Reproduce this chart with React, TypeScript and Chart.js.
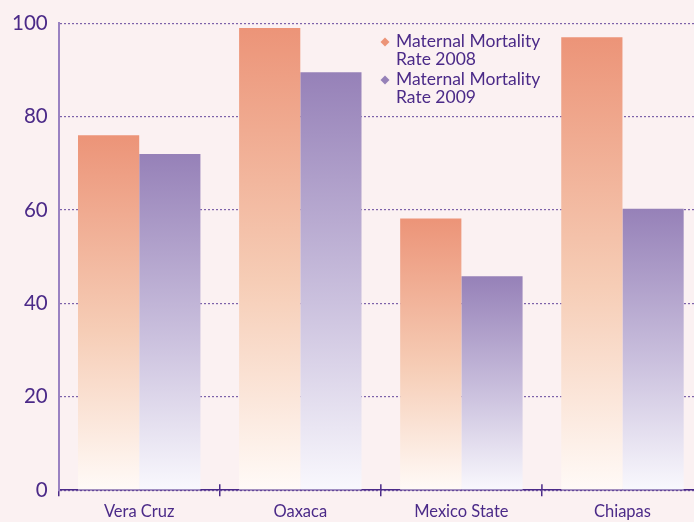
import React, { useEffect, useRef } from "react";
import { Chart, registerables } from "chart.js";

Chart.register(...registerables);

const categories = ["Vera Cruz", "Oaxaca", "Mexico State", "Chiapas"];
const rate2008 = [76, 99, 58.2, 97];
const rate2009 = [72, 89.5, 45.8, 60.3];
const seriesLabels = [["Maternal Mortality", "Rate 2008"], ["Maternal Mortality", "Rate 2009"]];
const yTicks = [0, 20, 40, 60, 80, 100];

const PURPLE = "#4b2a88";
const BG = "#fbf1f2";

function gradientFill(top: string, mid: string, bottom: string) {
  return (ctx: any) => {
    const chart = ctx.chart;
    if (!chart.chartArea || ctx.raw == null) return top;
    const y = chart.scales.y;
    const y0 = y.getPixelForValue(ctx.raw);
    const y1 = y.getPixelForValue(0);
    const g = chart.ctx.createLinearGradient(0, y0, 0, y1);
    g.addColorStop(0, top);
    g.addColorStop(0.55, mid);
    g.addColorStop(1, bottom);
    return g;
  };
}

const legendPlugin = {
  id: "innerLegend",
  afterDraw(chart: any) {
    const c = chart.ctx;
    const colors = ["#ec9478", "#9681b8"];
    c.save();
    c.font = "17.5px Lato";
    c.textBaseline = "alphabetic";
    const x0 = 385;
    const baseY = 47;
    chart.data.datasets.forEach((ds: any, i: number) => {
      const yb = baseY + i * 38;
      c.fillStyle = colors[i];
      c.beginPath();
      const cy = yb - 5;
      c.moveTo(x0, cy - 4.5);
      c.lineTo(x0 + 4.5, cy);
      c.lineTo(x0, cy + 4.5);
      c.lineTo(x0 - 4.5, cy);
      c.closePath();
      c.fill();
      c.fillStyle = PURPLE;
      const lines = seriesLabels[i];
      lines.forEach((t, j) => c.fillText(t, x0 + 11, yb + j * 18));
    });
    c.restore();
  },
};

const axisTickPlugin = {
  id: "crossTicks",
  afterDraw(chart: any) {
    const c = chart.ctx;
    const x = chart.scales.x;
    const bottom = chart.chartArea.bottom;
    c.save();
    c.strokeStyle = PURPLE;
    c.lineWidth = 1.5;
    for (let i = 1; i < categories.length; i++) {
      const px = (x.getPixelForTick(i - 1) + x.getPixelForTick(i)) / 2;
      c.beginPath();
      c.moveTo(px, bottom - 6);
      c.lineTo(px, bottom);
      c.stroke();
    }
    c.restore();
  },
};

const bgPlugin = {
  id: "bg",
  beforeDraw(chart: any) {
    const c = chart.ctx;
    c.save();
    c.fillStyle = BG;
    c.fillRect(0, 0, chart.width, chart.height);
    c.restore();
  },
};

export default function App() {
  const ref = useRef<HTMLCanvasElement>(null);
  useEffect(() => {
    document.body.style.margin = "0";
    document.body.style.overflow = "hidden";
    document.body.style.background = BG;
    const chart = new Chart(ref.current!, {
      type: "bar",
      data: {
        labels: categories,
        datasets: [
          {
            label: seriesLabels[0].join(" "),
            data: rate2008,
            backgroundColor: gradientFill("#ec9478", "#f6cdb6", "#fffaf7"),
            categoryPercentage: 0.76,
            barPercentage: 1,
          },
          {
            label: seriesLabels[1].join(" "),
            data: rate2009,
            backgroundColor: gradientFill("#9681b8", "#cbc1de", "#f9f8fd"),
            categoryPercentage: 0.76,
            barPercentage: 1,
          },
        ],
      },
      options: {
        animation: false,
        responsive: false,
        layout: { padding: { top: 10, right: 1, left: 1, bottom: 0 } },
        plugins: { legend: { display: false }, tooltip: { enabled: false } },
        scales: {
          x: {
            grid: {
              display: true,
              drawOnChartArea: false,
              drawTicks: true,
              tickLength: 6,
              color: PURPLE,
              lineWidth: 1.5,
            },
            border: { display: true, color: PURPLE, width: 1.5 },
            ticks: { color: PURPLE, font: { family: "Lato", size: 16.5 }, padding: 5.5 },
          },
          y: {
            min: 0,
            max: 100,
            afterBuildTicks: (s: any) => {
              s.ticks = yTicks.map((v) => ({ value: v }));
            },
            grid: {
              color: "#7d62aa",
              lineWidth: 1.2,
              drawTicks: false,
            },
            border: { display: true, color: "#9a82c2", width: 2, dash: [2, 2] },
            ticks: { color: PURPLE, font: { family: "Lato", size: 20.5 }, padding: 11 },
          },
        },
      },
      plugins: [bgPlugin, axisTickPlugin, legendPlugin],
    });
    return () => chart.destroy();
  }, []);
  return (
    <div style={{ width: 704, height: 527, position: "relative" }}>
      <canvas ref={ref} width={704} height={527} style={{ display: "block" }} />
    </div>
  );
}
